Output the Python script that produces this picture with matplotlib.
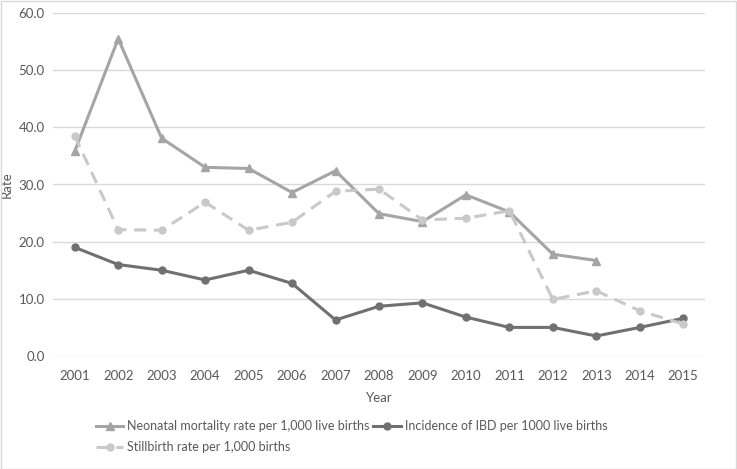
import matplotlib.pyplot as plt
from matplotlib.patches import Rectangle

years = [2001, 2002, 2003, 2004, 2005, 2006, 2007, 2008, 2009, 2010, 2011, 2012, 2013, 2014, 2015]
neonatal = [35.8, 55.5, 38.1, 33.0, 32.8, 28.6, 32.4, 24.9, 23.5, 28.2, 25.2, 17.8, 16.7]
ibd = [19.0, 16.0, 15.0, 13.3, 15.0, 12.7, 6.3, 8.7, 9.3, 6.8, 5.0, 5.0, 3.5, 5.0, 6.6]
stillbirth = [38.5, 22.1, 22.0, 26.9, 22.0, 23.4, 28.8, 29.2, 23.8, 24.1, 25.4, 9.9, 11.4, 7.9, 5.6]

plt.rcParams['font.family'] = ['Lato', 'DejaVu Sans']

fig = plt.figure(figsize=(7.37, 4.69), dpi=100)
ax = fig.add_axes([53 / 737, 1 - 356 / 469, 652 / 737, 343 / 469])

l1, = ax.plot(years[:len(neonatal)], neonatal, color='#a5a5a5', lw=2.2, marker='^', ms=5.5,
              label='Neonatal mortality rate per 1,000 live births')
l2, = ax.plot(years, ibd, color='#707070', lw=2.2, marker='o', ms=5,
              label='Incidence of IBD per 1000 live births')
l3, = ax.plot(years, stillbirth, color='#c9c9c9', lw=2.2, marker='o', ms=5, ls=(0, (4, 2.5)),
              label='Stillbirth rate per 1,000 births')

ax.set_xlim(2000.5, 2015.5)
ax.set_ylim(0, 60)
ax.set_xticks(years)
ax.set_xticklabels([str(y) for y in years])
ax.set_yticks(range(0, 61, 10))
ax.set_yticklabels([f'{v:.1f}' for v in range(0, 61, 10)])
ax.grid(axis='y', color='#d9d9d9', lw=1)
ax.set_axisbelow(True)
for s in ax.spines.values():
    s.set_visible(False)
ax.tick_params(length=0, labelsize=9.5, colors='#595959')
ax.tick_params(axis='x', pad=10)
ax.tick_params(axis='y', pad=6)
ax.set_xlabel('Year', fontsize=9.5, color='#595959', labelpad=7)
ax.set_ylabel('Rate', fontsize=9.5, color='#595959')
ax.yaxis.set_label_coords(-0.061, 0.5)

leg = fig.legend([l1, l3, l2], [l1.get_label(), l3.get_label(), l2.get_label()],
                 ncol=2, loc='upper left', bbox_to_anchor=(96 / 737, 1 - 420 / 469),
                 frameon=False, fontsize=9, handlelength=2.2, handletextpad=0.3,
                 columnspacing=0.3, labelspacing=0.75, borderaxespad=0, borderpad=0)
for t in leg.get_texts():
    t.set_color('#595959')

fig.patches.append(Rectangle((0.001, 0.001), 0.997, 0.997, transform=fig.transFigure,
                             fill=False, edgecolor='#d9d9d9', lw=1))

fig.savefig('out.png', dpi=100)
